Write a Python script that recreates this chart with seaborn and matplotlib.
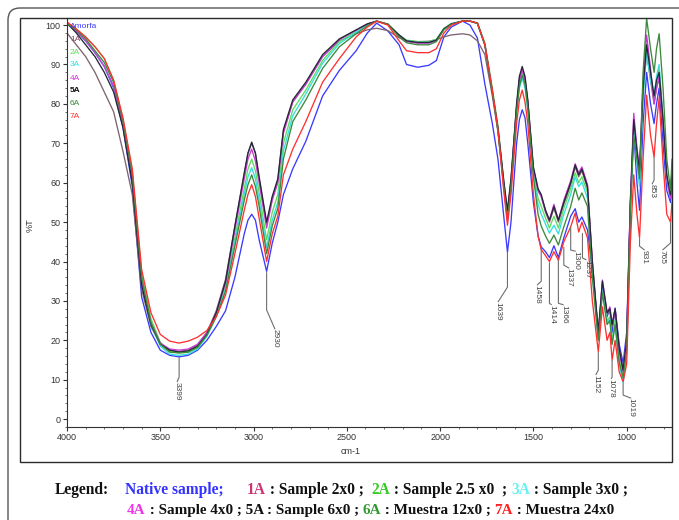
import matplotlib
matplotlib.use("Agg")
import matplotlib.pyplot as plt
from matplotlib.patches import FancyBboxPatch, Rectangle
from matplotlib.transforms import IdentityTransform
from matplotlib.ticker import MultipleLocator
import pandas as pd
import seaborn as sns

# ---- FTIR spectra (% transmittance vs wavenumber, cm-1) ----
wavenumber = [
    4000, 3950, 3900, 3850, 3800, 3750, 3700, 3650, 3600, 3550,
    3500, 3450, 3400, 3350, 3300, 3250, 3200, 3150, 3100, 3050,
    3030, 3010, 2990, 2970, 2930, 2900, 2870, 2840, 2790, 2720, 2630, 2540,
    2450, 2390, 2340, 2280, 2220, 2180, 2120, 2060, 2020, 1980,
    1940, 1880, 1840, 1800, 1760, 1720, 1690, 1660, 1639, 1620,
    1590, 1575, 1560, 1545, 1530, 1500, 1475, 1458, 1435, 1414, 1390, 1366,
    1337, 1300, 1276, 1257, 1240, 1210, 1184, 1152, 1130, 1105,
    1090, 1078, 1062, 1040, 1019, 1000, 980, 962, 945, 931,
    912, 893, 872, 853, 840, 826, 805, 785, 765, 757,
]

native = [
    100.5, 98.5, 96, 93, 89.5, 84, 74, 59, 31, 22,
    17.5, 16.2, 15.8, 16.2, 17.5, 20, 23.5, 27.5, 36, 47,
    50.5, 52, 50.5, 45.5, 37.5, 44.6, 50, 57, 63.5, 70.5, 82, 88.5,
    93.5, 98, 100.5, 98.5, 95, 90, 89.3, 89.8, 91, 97,
    99.5, 101, 100, 96.7, 85, 75, 66, 52, 42.4, 50,
    70, 76, 78.5, 76.5, 70, 55, 46.5, 43.7, 42.5, 41, 44, 41,
    46, 51.5, 53.4, 50, 51.3, 48, 38, 22.2, 33, 26,
    28, 22, 28.2, 19, 14.2, 22, 55, 73, 60, 53,
    75, 88, 80, 75, 80, 84, 70, 58, 55, 60,
]
s1a = [
    98, 95, 92, 88, 83, 78, 68, 57, 33, 23.5,
    19, 17.5, 17.2, 17.5, 18.8, 22, 27.5, 35.5, 49, 62,
    67.5, 70, 67.5, 61, 49.5, 56, 60.5, 73, 80.5, 85, 92, 96,
    97.8, 98.8, 99.2, 98.6, 96.8, 96, 95.8, 95.9, 96.3, 97,
    97.5, 97.8, 97.5, 96, 92.5, 82, 73, 60, 52.5, 60.5,
    79.5, 86.5, 89, 86.5, 80.5, 63.5, 58, 56.5, 52.5, 50, 53.5, 50,
    54.5, 59.5, 64, 61.5, 63, 58.5, 39.5, 21.5, 34.5, 26.5,
    27.5, 23.5, 27.5, 17.5, 12, 19.5, 54, 75, 67, 62,
    83, 93, 86, 80, 84, 86.5, 75, 61, 56, 62,
]
s2a = [
    100.5, 99, 97, 94.5, 91.5, 86, 76, 63, 37, 25.5,
    19.5, 17.2, 16.8, 17, 18.3, 21.5, 26.5, 33.5, 46, 58.5,
    63.5, 66, 63, 57.5, 45.5, 52.5, 57, 70, 78.5, 83.5, 91, 95.8,
    98.5, 100.2, 101, 100.3, 97.5, 96.2, 95.8, 95.8, 96.4, 99.2,
    100.4, 101, 101, 100.6, 95.5, 84, 74.5, 61, 51.5, 60,
    79, 85, 87.5, 85, 79.5, 62.5, 56, 54, 51, 48.5, 51.5, 48.5,
    53.5, 58.5, 62.5, 60, 61.5, 57.5, 38.5, 20.5, 33.5, 25,
    26, 20, 25, 15.5, 10.5, 18, 53, 74, 66, 60,
    84, 95, 88, 82, 86, 89, 76, 61, 57, 64,
]
s3a = [
    100.3, 98.3, 96, 93, 89.5, 84.5, 75, 61.5, 35.5, 24,
    18.5, 16.5, 16.2, 16.5, 17.8, 21, 26, 33, 45, 57,
    61.5, 63.8, 61, 55.5, 43.5, 50.5, 55, 68, 77, 82.5, 90.3, 95.3,
    98.2, 100, 101, 100.2, 97.3, 96, 95.6, 95.6, 96.2, 99,
    100.3, 101, 101, 100.4, 95, 83, 73.5, 60, 51, 59.5,
    78, 84, 86.5, 84, 78.5, 62, 54.5, 52, 49.5, 47.2, 49.2, 47,
    52, 57, 61.5, 59, 60.2, 56, 37, 20, 33, 24.5,
    25.5, 19, 24, 14, 9.1, 16.5, 52, 73, 65, 59,
    82, 93, 86, 82, 87, 90, 76, 61, 56, 63,
]
s4a = [
    100.5, 98.5, 96, 93, 89.5, 84.5, 75, 61, 35, 24.5,
    19.3, 17.8, 17.5, 17.8, 19, 22, 27, 34.5, 48, 61,
    66, 68.5, 65.5, 60, 48.5, 55.5, 60, 72.5, 80.5, 85, 92, 96.3,
    98.7, 100.3, 101, 100.2, 97.3, 95.8, 95.4, 95.4, 96, 99,
    100.3, 101, 101, 100.5, 95, 83, 73.5, 60.5, 52, 60.5,
    79, 86, 88.5, 86, 80.5, 63.5, 58, 56.5, 53, 50.5, 54.5, 50.5,
    55.5, 60.5, 64.8, 62.5, 64, 59.5, 40, 21.5, 35.3, 27,
    28.5, 24, 28, 17.5, 12, 20, 56, 77.6, 69, 63.5,
    86, 97.5, 89, 80, 84, 87, 75, 61, 56, 63,
]
s5a = [
    100.5, 98, 95, 92, 88, 83, 74, 60, 34, 24,
    19, 17.5, 17, 17.3, 18.5, 21.5, 27, 35, 49, 62.5,
    67.5, 70.3, 67.5, 61.5, 50, 56.5, 61, 73.5, 81, 85.5, 92.5, 96.5,
    98.8, 100.3, 101, 100.2, 97.5, 96, 95.6, 95.6, 96.2, 99,
    100.3, 101, 101, 100.5, 95, 83, 74, 61, 53, 61,
    80, 87, 89.5, 87, 81, 64, 58.5, 57, 53, 50.5, 54, 50.5,
    55, 60, 64.5, 62, 63.5, 59, 40, 22, 35, 27,
    28, 24, 28, 18, 12.4, 20, 55, 76, 68, 63,
    84, 95, 88, 82, 86, 88, 76, 62, 57, 63,
]
s6a = [
    100.4, 98.8, 96.5, 93.5, 90.5, 85.5, 75.5, 62, 36, 24.5,
    19, 17, 16.8, 17, 18.2, 21.3, 26, 32.5, 44, 55.5,
    59.5, 62, 59, 54, 42, 49, 53.5, 66, 75.5, 81, 89, 94.5,
    97.8, 99.8, 101, 100.2, 97, 95.5, 95, 95, 95.8, 98.8,
    100.2, 101, 101, 100.4, 95, 83, 73, 59.5, 50.5, 59,
    78, 84.5, 87.3, 85, 79, 61.5, 52, 49, 46.5, 44.6, 46.7, 44.2,
    48.8, 54, 58.6, 55.6, 57.4, 54, 36, 20, 32, 24,
    25, 19, 24, 14.5, 10.5, 17.5, 54, 72, 66, 61,
    88, 101.7, 94, 88, 94, 97.8, 84, 66, 58, 66,
]
s7a = [
    100.8, 99, 97, 94.5, 91.5, 86, 76.5, 63.5, 38, 27,
    21.5, 19.8, 19.3, 19.8, 20.8, 22.5, 26, 31.5, 42, 53,
    57, 59.5, 56.5, 51, 40, 47, 51.5, 62, 68.5, 75.5, 85.5, 91.5,
    97, 99.5, 101, 100, 96, 93.5, 93, 93, 94, 98,
    100, 101, 101, 100.5, 95, 83.5, 73.5, 58.5, 49.2, 57,
    75, 81, 83.5, 80.5, 75, 57, 46.5, 43, 41.5, 40, 42.5, 40.3,
    45, 48.8, 52.3, 47.5, 50, 46, 30, 17.1, 28.5, 20,
    22, 15, 20, 12, 9.5, 14, 45, 62, 52, 46,
    66, 82.2, 72, 66.5, 75, 81.5, 65, 52, 50, 55,
]

sample_names = ["Amorfa", "1A", "2A", "3A", "4A", "5A", "6A", "7A"]
line_colors = ["#3a3aff", "#7d6470", "#5fdc5f", "#35dede",
               "#cc3ad6", "#26263a", "#3b8a3b", "#ff3030"]
label_colors = ["#3a3aff", "#8a4a66", "#5fdc5f", "#35dede",
                "#d63ad6", "#111111", "#3b8a3b", "#ff3030"]

# peak annotations: text, anchor wn, anchor %T, knee %T, text wn, text top %T
peak_labels = [
    ("3399", 3399, 15.7, 10.7, 3410, 9.4),
    ("2930", 2930, 37.3, 27.7, 2885, 22.8),
    ("1639", 1639, 42.4, 33.5, 1690, 29.7),
    ("1458", 1458, 43.7, 35.0, 1480, 34.0),
    ("1414", 1414, 39.8, 29.4, 1402, 29.0),
    ("1366", 1366, 40.3, 29.4, 1338, 29.0),
    ("1337", 1337, 43.7, 39.1, 1308, 38.3),
    ("1300", 1300, 48.7, 42.9, 1273, 42.6),
    ("1237", 1237, 47.2, 40.9, 1216, 40.4),
    ("1152", 1152, 17.0, 12.4, 1166, 11.2),
    ("1078", 1078, 15.0, 10.7, 1083, 10.2),
    ("1019", 1019, 9.1, 6.1, 976, 5.3),
    ("931", 931, 45.9, 43.9, 904, 42.9),
    ("853", 853, 66.5, 60.7, 864, 59.6),
    ("765", 765, 50.0, 44.7, 808, 42.9),
]

x_ticks = [4000, 3500, 3000, 2500, 2000, 1500, 1000]
y_ticks = [0, 10, 20, 30, 40, 50, 60, 70, 80, 90, 100]

spectra = pd.DataFrame({"wavenumber": wavenumber})
for name, vals in zip(sample_names,
                      [native, s1a, s2a, s3a, s4a, s5a, s6a, s7a]):
    spectra[name] = vals
long = spectra.melt(id_vars="wavenumber", var_name="sample", value_name="T")

sns.set_theme(style="white")
plt.rcParams["font.family"] = ["Liberation Sans", "DejaVu Sans"]

W, H = 679, 520
fig = plt.figure(figsize=(W / 100, H / 100), dpi=100)
fig.patch.set_facecolor("white")

# plot area in pixel terms
ax = fig.add_axes([67 / W, (H - 427) / H, (672 - 67) / W, (427 - 18) / H])
ax.set_facecolor("white")

sns.lineplot(data=long, x="wavenumber", y="T", hue="sample",
             hue_order=sample_names, palette=dict(zip(sample_names, line_colors)),
             estimator=None, sort=False, legend=False, linewidth=0.95, ax=ax)

ax.set_xlim(4000, 757)
ax.set_ylim(-2, 101.8)
ax.set_xticks(x_ticks)
ax.set_xticklabels([str(t) for t in x_ticks])
ax.set_yticks(y_ticks)
ax.set_yticklabels([str(t) for t in y_ticks])
ax.xaxis.set_minor_locator(MultipleLocator(100))
ax.yaxis.set_minor_locator(MultipleLocator(2))
ax.tick_params(which="major", direction="out", length=3, width=0.8,
               labelsize=6.5, colors="#333333", pad=1.5,
               bottom=True, left=True)
ax.tick_params(which="minor", direction="out", length=1.6, width=0.6,
               colors="#555555", bottom=True, left=True)
for side in ("top", "right"):
    ax.spines[side].set_visible(False)
for side in ("left", "bottom"):
    ax.spines[side].set_color("#333333")
    ax.spines[side].set_linewidth(0.8)
ax.set_xlabel("")
ax.set_ylabel("")
ax.grid(False)

# peak position labels with leader lines
for text, wn0, t0, tk, wn1, t1 in peak_labels:
    ax.plot([wn0, wn0, wn1], [t0, tk, t1], color="#6e6e6e", lw=0.8,
            solid_capstyle="butt", zorder=5)
    ax.text(wn1, t1, text, rotation=270, ha="center", va="top",
            fontsize=6, color="#444444", zorder=6)

# sample key inside the plot
key_y = [26.5, 39.5, 52, 65, 78, 90.5, 103.3, 116.5]
for name, col, yy in zip(sample_names, label_colors, key_y):
    fig.text(70 / W, 1 - yy / H, name, fontsize=6, color=col,
             ha="left", va="center",
             fontweight="bold" if name == "5A" else "normal")

fig.text(351 / W, 1 - 452 / H, "cm-1", fontsize=6.5, color="#333333",
         ha="center", va="center")
fig.text(30 / W, 1 - 225 / H, "%T", fontsize=6.5, color="#333333",
         rotation=90, ha="center", va="center")

# frames
fig.patches.append(Rectangle((20 / W, 1 - 462 / H), (672 - 20) / W,
                             (462 - 18) / H, transform=fig.transFigure,
                             fill=False, lw=1.0, ec="#2a2a2a"))
fig.patches.append(FancyBboxPatch((8, -30), 700, H - 8 + 30,
                                  boxstyle="round,pad=0,rounding_size=12",
                                  transform=IdentityTransform(),
                                  fill=False, lw=1.0, ec="#555555"))

# bottom legend in rich text
serif = dict(fontfamily="Liberation Serif", fontweight="bold")
renderer = fig.canvas.get_renderer()


def rich_line(x0, baseline, size, pieces):
    x = x0
    for s, c in pieces:
        t = fig.text(x / W, 1 - baseline / H, s, color=c, ha="left",
                     va="baseline", fontsize=size, **serif)
        x += t.get_window_extent(renderer).width


rich_line(55, 494, 11.2, [("Legend:", "#111111")])
rich_line(125, 494, 11.2,
          [("Native sample;", "#3333ff"), ("      ", "#111111"),
           ("1A", "#cc3377"), (" : Sample 2x0 ;  ", "#111111"),
           ("2A", "#33cc22"), (" : Sample 2.5 x0  ; ", "#111111"),
           ("3A", "#66f2f2"), (" : Sample 3x0 ;", "#111111")])
rich_line(127, 514, 10.9,
          [("4A", "#ee33ee"),
           (" : Sample 4x0 ; 5A : Sample 6x0 ; ", "#111111"),
           ("6A", "#339933"), (" : Muestra 12x0 ; ", "#111111"),
           ("7A", "#ff2222"), (" : Muestra 24x0", "#111111")])

fig.savefig("out.png", dpi=100, facecolor="white")
